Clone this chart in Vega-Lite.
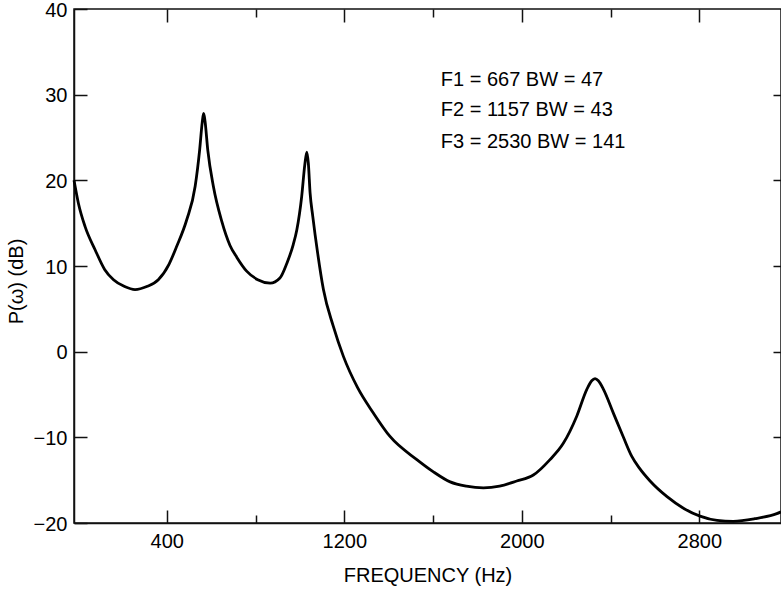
{
  "$schema": "https://vega.github.io/schema/vega-lite/v6.json",
  "width": 707,
  "height": 514,
  "autosize": {"type": "none"},
  "padding": {"left": 74, "top": 9, "right": 0, "bottom": 68},
  "background": "white",
  "config": {
    "view": {"stroke": "#111", "strokeWidth": 1.5},
    "font": "Liberation Sans",
    "axis": {
      "grid": false,
      "domainColor": "#111",
      "domainWidth": 1.5,
      "tickColor": "#111",
      "tickWidth": 1.5,
      "labelFont": "Liberation Sans",
      "labelFontSize": 20,
      "labelColor": "#000",
      "titleFont": "Liberation Sans",
      "titleFontSize": 20,
      "titleFontWeight": "normal",
      "titleColor": "#000"
    }
  },
  "datasets": {
    "spectrum": [
      {"freq": -18, "db": 20.0},
      {"freq": 2, "db": 17.3},
      {"freq": 32, "db": 14.6},
      {"freq": 77, "db": 11.9},
      {"freq": 120, "db": 9.6},
      {"freq": 160, "db": 8.4},
      {"freq": 210, "db": 7.6},
      {"freq": 257, "db": 7.25},
      {"freq": 310, "db": 7.6},
      {"freq": 362, "db": 8.4},
      {"freq": 410, "db": 10.2},
      {"freq": 445, "db": 12.3},
      {"freq": 490, "db": 15.4},
      {"freq": 528, "db": 19.3},
      {"freq": 548, "db": 23.5},
      {"freq": 560, "db": 26.8},
      {"freq": 566, "db": 27.8},
      {"freq": 572, "db": 27.0},
      {"freq": 585, "db": 23.5},
      {"freq": 610, "db": 19.3},
      {"freq": 648, "db": 15.2},
      {"freq": 685, "db": 12.4},
      {"freq": 716, "db": 11.0},
      {"freq": 760, "db": 9.4},
      {"freq": 810, "db": 8.4},
      {"freq": 866, "db": 8.0},
      {"freq": 910, "db": 8.6},
      {"freq": 941, "db": 10.3},
      {"freq": 970, "db": 12.5},
      {"freq": 986, "db": 14.2},
      {"freq": 1008, "db": 18.1},
      {"freq": 1022, "db": 21.8},
      {"freq": 1031, "db": 23.3},
      {"freq": 1038, "db": 22.0},
      {"freq": 1046, "db": 18.5},
      {"freq": 1058, "db": 15.8},
      {"freq": 1080, "db": 11.5},
      {"freq": 1106, "db": 7.25},
      {"freq": 1150, "db": 3.0},
      {"freq": 1196, "db": -0.55},
      {"freq": 1260, "db": -4.2},
      {"freq": 1331, "db": -7.16},
      {"freq": 1406, "db": -9.9},
      {"freq": 1527, "db": -12.6},
      {"freq": 1600, "db": -14.0},
      {"freq": 1677, "db": -15.2},
      {"freq": 1750, "db": -15.7},
      {"freq": 1827, "db": -15.9},
      {"freq": 1900, "db": -15.7},
      {"freq": 1977, "db": -15.1},
      {"freq": 2052, "db": -14.4},
      {"freq": 2127, "db": -12.6},
      {"freq": 2187, "db": -10.7},
      {"freq": 2248, "db": -7.5},
      {"freq": 2293, "db": -4.4},
      {"freq": 2315, "db": -3.4},
      {"freq": 2330, "db": -3.15},
      {"freq": 2345, "db": -3.4},
      {"freq": 2368, "db": -4.4},
      {"freq": 2413, "db": -7.2},
      {"freq": 2458, "db": -10.0},
      {"freq": 2495, "db": -12.2},
      {"freq": 2530, "db": -13.6},
      {"freq": 2578, "db": -15.1},
      {"freq": 2653, "db": -16.9},
      {"freq": 2730, "db": -18.3},
      {"freq": 2803, "db": -19.2},
      {"freq": 2880, "db": -19.7},
      {"freq": 2953, "db": -19.8},
      {"freq": 3050, "db": -19.5},
      {"freq": 3149, "db": -18.9},
      {"freq": 3168, "db": -18.7}
    ],
    "notes": [
      {"freq": 1635, "db": 31.05, "label": "F1 = 667 BW = 47"},
      {"freq": 1635, "db": 27.46, "label": "F2 = 1157 BW = 43"},
      {"freq": 1635, "db": 23.77, "label": "F3 = 2530 BW = 141"}
    ]
  },
  "layer": [
    {
      "data": {"name": "notes"},
      "mark": {"type": "text", "align": "left", "baseline": "alphabetic", "font": "Liberation Sans", "fontSize": 20, "color": "#000"},
      "encoding": {
        "x": {
          "field": "freq",
          "type": "quantitative",
          "scale": {"domain": [-18, 3168], "nice": false, "zero": false},
          "axis": {
            "orient": "top",
            "offset": -13,
            "values": [400, 1200, 2000, 2800],
            "labels": false,
            "domain": false,
            "tickSize": 13,
            "title": null
          }
        },
        "y": {
          "field": "db",
          "type": "quantitative",
          "scale": {"domain": [-20, 40], "nice": false, "zero": false},
          "axis": {
            "orient": "right",
            "values": [-10, 0, 10, 20, 30],
            "labels": false,
            "domain": false,
            "tickSize": -8,
            "title": null
          }
        },
        "text": {"field": "label"}
      }
    },
    {
      "data": {"name": "notes"},
      "mark": {"type": "point", "opacity": 0},
      "encoding": {
        "x": {
          "field": "freq",
          "type": "quantitative",
          "scale": {"domain": [-18, 3168], "nice": false, "zero": false},
          "axis": {
            "orient": "top",
            "offset": -8,
            "values": [800, 1600, 2400],
            "labels": false,
            "domain": false,
            "tickSize": 8,
            "title": null
          }
        },
        "y": {
          "field": "db",
          "type": "quantitative",
          "scale": {"domain": [-20, 40], "nice": false, "zero": false},
          "axis": null
        }
      }
    },
    {
      "data": {"name": "spectrum"},
      "mark": {"type": "line", "color": "#000", "strokeWidth": 2.8, "interpolate": "monotone"},
      "encoding": {
        "x": {
          "field": "freq",
          "type": "quantitative",
          "scale": {"domain": [-18, 3168], "nice": false, "zero": false},
          "axis": {
            "orient": "bottom",
            "values": [400, 800, 1200, 1600, 2000, 2400, 2800],
            "format": "d",
            "labelExpr": "datum.value % 800 == 400 ? datum.label : ''",
            "tickSize": {"condition": {"test": "datum.value % 800 == 400", "value": -13}, "value": -8},
            "labelPadding": 21,
            "labelFlush": false,
            "labelOverlap": false,
            "title": "FREQUENCY (Hz)",
            "titleY": 58,
            "titleBaseline": "alphabetic"
          }
        },
        "y": {
          "field": "db",
          "type": "quantitative",
          "scale": {"domain": [-20, 40], "nice": false, "zero": false},
          "axis": {
            "orient": "left",
            "values": [-20, -10, 0, 10, 20, 30, 40],
            "tickSize": -13,
            "labelPadding": 20,
            "labelOffset": 1,
            "labelFlush": false,
            "labelOverlap": false,
            "title": "P(ω) (dB)",
            "titleX": -52,
            "titleY": 272,
            "titleAngle": 270,
            "titleBaseline": "alphabetic"
          }
        }
      }
    }
  ],
  "resolve": {"axis": {"x": "independent", "y": "independent"}}
}
